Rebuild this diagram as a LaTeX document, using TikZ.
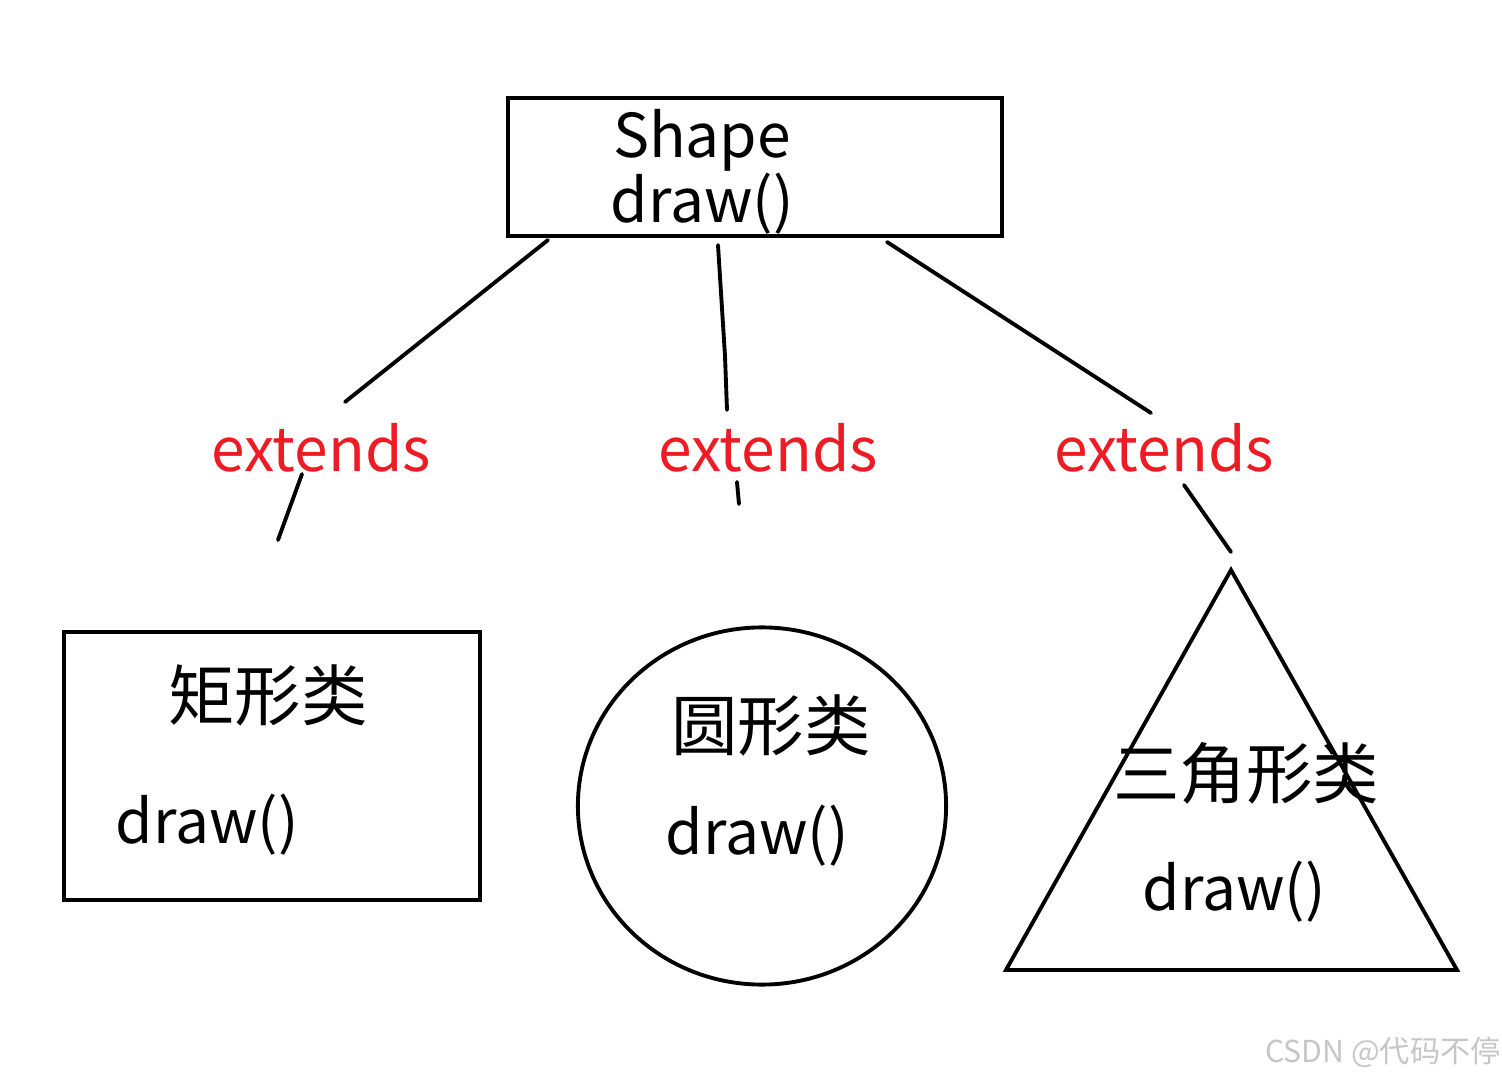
\documentclass[tikz,border=0pt]{standalone}
\usepackage{fontspec}
\usepackage{xcolor}
\usepackage{tikz}
\usetikzlibrary{shapes.geometric}
\newfontfamily\cjk{Noto Sans CJK SC}
\definecolor{ext}{RGB}{237,28,36}
\tikzset{txt/.style={font=\cjk\fontsize{17.2}{18.3}\selectfont,inner sep=0pt,align=center},
  cn/.style={txt,font=\cjk\fontsize{18.9}{20}\selectfont},
  lbl/.style={txt,text=ext},
  cls/.style={draw,line width=1.1pt},
  link/.style={line width=1.1pt,line cap=round}}

\begin{document}
\begin{tikzpicture}[x=0.01cm,y=-0.01cm]
\useasboundingbox (0,0) rectangle (1502,1079);
\node[cls,minimum width=4.94cm,minimum height=1.38cm] (sh) at (755,167) {};
\node[txt] (shn) at (702,172) {Shape\\draw()};
\node[lbl] (e1) at (321,448) {extends};
\node[lbl] (e2) at (768,448) {extends};
\node[lbl] (e3) at (1164,448) {extends};
\node[cls,minimum width=4.16cm,minimum height=2.67cm] (rect) at (272,766) {};
\node[cn] (rectn) at (268,695) {矩形类};
\node[txt] (rectm) at (207,825) {draw()};
\node[cls,ellipse,minimum width=3.68cm,minimum height=3.57cm] (circ) at (762,806) {};
\node[cn] (circn) at (771,725) {圆形类};
\node[txt] (circm) at (757,836) {draw()};
\coordinate (t1) at (1231,570);
\coordinate (t2) at (1006,970);
\coordinate (t3) at (1457,970);
\draw[cls] (t1) -- (t2) -- (t3) -- cycle;
\node[cn] (trin) at (1246,773) {三角形类};
\node[txt] (trim) at (1234,892) {draw()};
% hand drawn links, broken round the labels
\coordinate (a1) at (548,240); \coordinate (a2) at (345,402);
\coordinate (a3) at (302,474); \coordinate (a4) at (278,540);
\coordinate (b1) at (718,245); \coordinate (b2) at (725,356); \coordinate (b3) at (727,410);
\coordinate (b4) at (737,482); \coordinate (b5) at (739,504);
\coordinate (c1) at (887,242); \coordinate (c2) at (1151,413);
\coordinate (c3) at (1184,485); \coordinate (c4) at (1231,552);
\draw[link] (a1) -- (a2); \draw[link] (a3) -- (a4);
\draw[link] (b1) -- (b2) -- (b3); \draw[link] (b4) -- (b5);
\draw[link] (c1) -- (c2); \draw[link] (c3) -- (c4);
\node[font=\cjk\fontsize{8.6}{10}\selectfont,text=gray!45,inner sep=0pt] (wm) at (1383,1052) {CSDN @代码不停};
\end{tikzpicture}
\end{document}
